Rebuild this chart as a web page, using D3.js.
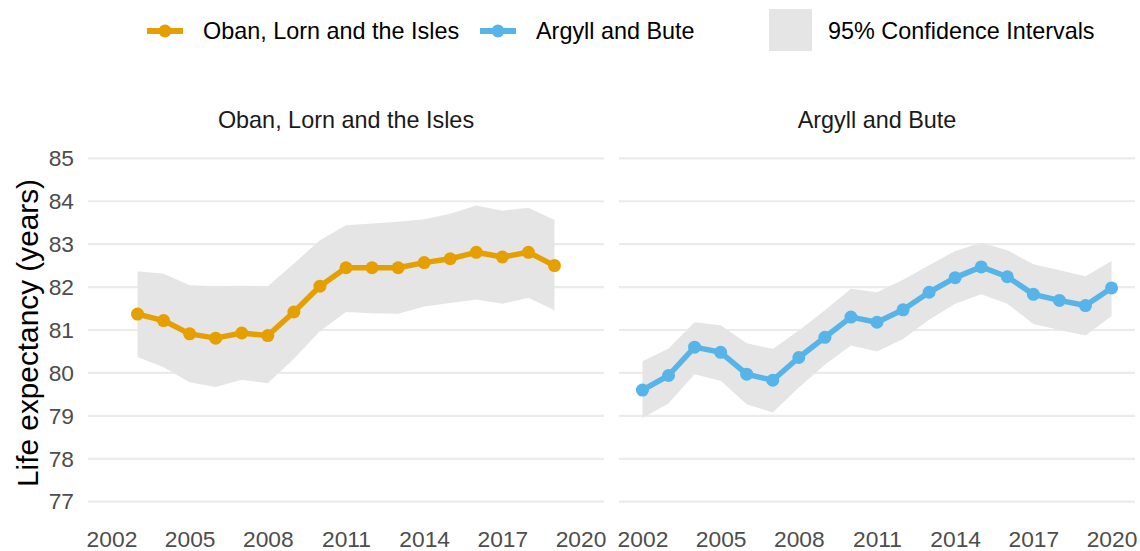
<!DOCTYPE html>
<html>
<head>
<meta charset="utf-8">
<script src="https://cdn.jsdelivr.net/npm/d3@7"></script>
<style>
  html, body { margin: 0; padding: 0; background: #fff; }
  svg { display: block; font-family: "Liberation Sans", Arial, sans-serif; }
</style>
</head>
<body>
<svg id="chart" width="1140" height="551"></svg>
<script>
// ---- Data ----
const panelNames = ["Oban, Lorn and the Isles", "Argyll and Bute"];
const seriesColors = ["#E69F00", "#56B4E9"];

const obanYears = [2003, 2004, 2005, 2006, 2007, 2008, 2009, 2010, 2011, 2012, 2013, 2014, 2015, 2016, 2017, 2018, 2019];
const obanValues = [81.37, 81.22, 80.91, 80.81, 80.93, 80.87, 81.42, 82.02, 82.45, 82.45, 82.45, 82.57, 82.66, 82.81, 82.70, 82.81, 82.50];
const obanUpper = [82.37, 82.31, 82.04, 82.02, 82.03, 82.02, 82.55, 83.09, 83.44, 83.48, 83.52, 83.58, 83.71, 83.90, 83.78, 83.85, 83.56];
const obanLower = [80.37, 80.13, 79.78, 79.67, 79.84, 79.76, 80.33, 80.97, 81.42, 81.39, 81.38, 81.55, 81.63, 81.71, 81.61, 81.75, 81.46];

const argyllYears = [2002, 2003, 2004, 2005, 2006, 2007, 2008, 2009, 2010, 2011, 2012, 2013, 2014, 2015, 2016, 2017, 2018, 2019, 2020];
const argyllValues = [79.60, 79.94, 80.60, 80.48, 79.97, 79.83, 80.36, 80.83, 81.30, 81.18, 81.47, 81.88, 82.22, 82.47, 82.24, 81.83, 81.69, 81.57, 81.98];
const argyllUpper = [80.27, 80.57, 81.18, 81.11, 80.69, 80.56, 80.99, 81.46, 81.96, 81.88, 82.17, 82.51, 82.84, 83.03, 82.86, 82.53, 82.39, 82.25, 82.61];
const argyllLower = [78.95, 79.29, 79.97, 79.82, 79.27, 79.08, 79.66, 80.19, 80.64, 80.50, 80.79, 81.24, 81.61, 81.83, 81.61, 81.14, 81.00, 80.87, 81.32];

const xTicks = [2002, 2005, 2008, 2011, 2014, 2017, 2020];
const yTicks = [77, 78, 79, 80, 81, 82, 83, 84, 85];
const yTitle = "Life expectancy (years)";
const ciLabel = "95% Confidence Intervals";

// ---- Build ----
const panels = [
  { name: panelNames[0], color: seriesColors[0], years: obanYears, values: obanValues, upper: obanUpper, lower: obanLower, x0: 88, x1: 604 },
  { name: panelNames[1], color: seriesColors[1], years: argyllYears, values: argyllValues, upper: argyllUpper, lower: argyllLower, x0: 619, x1: 1135 }
];

const svg = d3.select("#chart");
const y = d3.scaleLinear().domain([77, 85]).range([501.7, 158.3]);
const xDomain = [2002 - 0.9, 2020 + 0.9];

panels.forEach(p => {
  const x = d3.scaleLinear().domain(xDomain).range([p.x0, p.x1]);
  const g = svg.append("g");

  // gridlines
  g.selectAll("line.grid").data(yTicks).join("line")
    .attr("x1", p.x0).attr("x2", p.x1)
    .attr("y1", d => y(d)).attr("y2", d => y(d))
    .attr("stroke", "#EBEBEB").attr("stroke-width", 2.2);

  const rows = p.years.map((yr, i) => ({ yr, v: p.values[i], lo: p.lower[i], hi: p.upper[i] }));

  // CI ribbon
  const area = d3.area().x(d => x(d.yr)).y0(d => y(d.lo)).y1(d => y(d.hi));
  g.append("path").datum(rows).attr("d", area).attr("fill", "#E5E5E5");

  // line
  const line = d3.line().x(d => x(d.yr)).y(d => y(d.v));
  g.append("path").datum(rows).attr("d", line)
    .attr("fill", "none").attr("stroke", p.color).attr("stroke-width", 5.5)
    .attr("stroke-linejoin", "round");

  // points
  g.selectAll("circle").data(rows).join("circle")
    .attr("cx", d => x(d.yr)).attr("cy", d => y(d.v)).attr("r", 6.5)
    .attr("fill", p.color);

  // x axis labels
  const xAxis = d3.axisBottom(x).tickValues(xTicks).tickFormat(d3.format("d")).tickSize(0).tickPadding(0);
  const ax = g.append("g").attr("transform", "translate(0,531)").call(xAxis);
  ax.select(".domain").remove();
  ax.selectAll("text").attr("font-size", 22.8).attr("fill", "#4D4D4D")
    .attr("font-family", "Liberation Sans, Arial, sans-serif").attr("dy", "0.71em");

  // strip title
  g.append("text").attr("x", (p.x0 + p.x1) / 2).attr("y", 128)
    .attr("text-anchor", "middle").attr("font-size", 23.4).attr("fill", "#1A1A1A")
    .text(p.name);
});

// y axis labels (left panel only)
const yAxis = d3.axisLeft(y).tickValues(yTicks).tickFormat(d3.format("d")).tickSize(0).tickPadding(0);
const ay = svg.append("g").attr("transform", "translate(74,0)").call(yAxis);
ay.select(".domain").remove();
ay.selectAll("text").attr("font-size", 22.8).attr("fill", "#4D4D4D")
  .attr("font-family", "Liberation Sans, Arial, sans-serif");

// y title
svg.append("text").attr("transform", "translate(38,333) rotate(-90)")
  .attr("text-anchor", "middle").attr("font-size", 29.8).attr("fill", "#000")
  .text(yTitle);

// legend
const legendSeries = [
  { label: panelNames[0], color: seriesColors[0], lx: 147, tx: 203 },
  { label: panelNames[1], color: seriesColors[1], lx: 480, tx: 536 }
];
const lg = svg.append("g");
legendSeries.forEach(s => {
  lg.append("line").attr("x1", s.lx).attr("x2", s.lx + 36).attr("y1", 31).attr("y2", 31)
    .attr("stroke", s.color).attr("stroke-width", 6);
  lg.append("circle").attr("cx", s.lx + 18).attr("cy", 31).attr("r", 6.5).attr("fill", s.color);
  lg.append("text").attr("x", s.tx).attr("y", 39).attr("font-size", 23.4).attr("fill", "#000").text(s.label);
});
lg.append("rect").attr("x", 769).attr("y", 9).attr("width", 43).attr("height", 42).attr("fill", "#E5E5E5");
lg.append("text").attr("x", 828).attr("y", 39).attr("font-size", 23.4).attr("fill", "#000").text(ciLabel);
</script>
</body>
</html>
